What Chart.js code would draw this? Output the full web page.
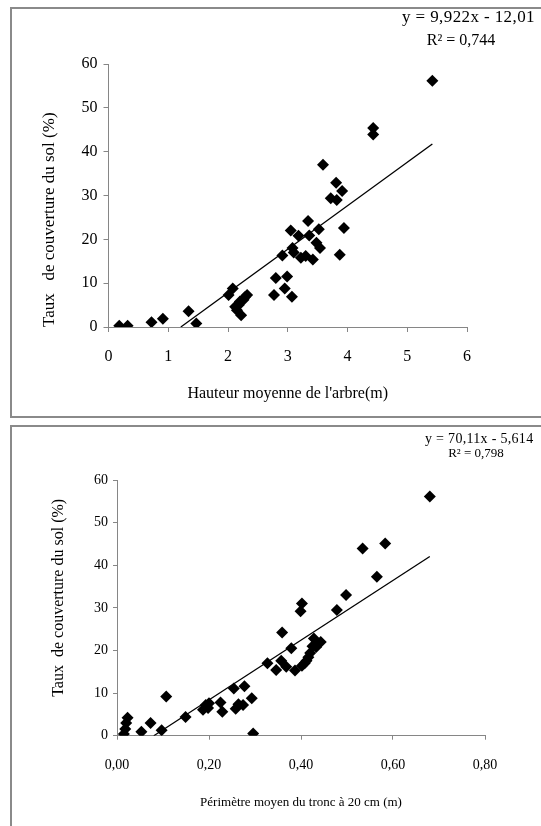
<!DOCTYPE html>
<html>
<head>
<meta charset="utf-8">
<script src="https://cdn.jsdelivr.net/npm/chart.js@4.4.1/dist/chart.umd.min.js"></script>
<style>
  body { margin: 0; background: #fff; overflow: hidden; width: 541px; height: 826px; position: relative; }
  .box { position: absolute; border: 2px solid #8a8a8a; box-sizing: border-box; }
  canvas { position: absolute; }
</style>
</head>
<body>
<div class="box" style="left:10px;top:7px;width:600px;height:411px"></div>
<div class="box" style="left:10px;top:425px;width:600px;height:500px"></div>
<canvas id="chart1" width="570" height="418" style="left:0;top:0"></canvas>
<canvas id="chart2" width="570" height="420" style="left:0;top:420px"></canvas>
<script>
// chart 1 : hauteur moyenne de l'arbre
const hauteur = [0.18, 0.32, 0.72, 0.91, 1.34, 1.47,
  2.01, 2.08, 2.12, 2.15, 2.22, 2.20, 2.26, 2.32, 2.18, 2.28,
  2.77, 2.80, 2.91, 2.95, 2.99, 3.07, 3.05, 3.08, 3.10, 3.18,
  3.22, 3.30, 3.34, 3.36, 3.42, 3.48, 3.52, 3.54, 3.87, 3.94,
  3.59, 3.81, 3.72, 3.91, 3.82, 4.43, 4.43, 5.42];
const couverture1 = [0.3, 0.3, 1.1, 1.9, 3.6, 0.8,
  7.3, 8.8, 4.6, 3.8, 2.7, 5.8, 6.2, 7.3, 5.0, 6.8,
  7.3, 11.2, 16.3, 8.8, 11.5, 6.9, 22.0, 18.0, 17.0, 20.8,
  15.8, 16.2, 24.2, 20.9, 15.4, 19.2, 22.3, 18.0, 16.5, 22.6,
  37.0, 32.9, 29.4, 31.0, 29.0, 45.4, 43.9, 56.2];
const trendX1 = [1.21, 5.42];
const trendY1 = [0, 41.77];
const xTicks1 = ['0', '1', '2', '3', '4', '5', '6'];
const eq1 = ['y = 9,922x - 12,01', 'R² = 0,744'];

// chart 2 : perimetre du tronc
const perimetre = [0.015, 0.018, 0.020, 0.023,
  0.053, 0.073, 0.097, 0.107, 0.149,
  0.187, 0.193, 0.198, 0.200, 0.225, 0.229,
  0.254, 0.258, 0.264, 0.274, 0.277, 0.293, 0.296,
  0.327, 0.346, 0.357, 0.359, 0.368, 0.379, 0.387,
  0.399, 0.402, 0.402, 0.408, 0.412, 0.416, 0.420, 0.425, 0.428, 0.433, 0.443,
  0.478, 0.498, 0.534, 0.565, 0.583, 0.680];
const couverture2 = [0.4, 1.6, 3.0, 4.2,
  0.9, 3.0, 1.3, 9.2, 4.4,
  6.1, 7.2, 6.5, 7.6, 7.8, 5.6,
  11.1, 6.3, 7.4, 7.2, 11.6, 8.8, 0.5,
  17.0, 15.4, 17.6, 24.2, 16.2, 20.5, 15.3,
  29.2, 31.0, 16.4, 17.0, 17.6, 18.4, 19.4, 21.0, 22.8, 20.8, 22.0,
  29.5, 33.0, 43.9, 37.3, 45.1, 56.1];
const trendX2 = [0.08, 0.68];
const trendY2 = [0, 42.06];
const xTicks2 = ['0,00', '0,20', '0,40', '0,60', '0,80'];
const eq2 = ['y = 70,11x - 5,614', 'R² = 0,798'];

const serif = "'Liberation Serif', 'Times New Roman', serif";

const eqText = {
  id: 'eqText',
  afterDraw(chart, args, opts) {
    const ctx = chart.ctx;
    ctx.save();
    ctx.fillStyle = '#000';
    ctx.textBaseline = 'middle';
    opts.lines.forEach(l => {
      ctx.font = l.size + 'px ' + serif;
      ctx.letterSpacing = (l.spacing || 0) + 'px';
      ctx.textAlign = l.align;
      ctx.fillText(l.text, l.x, l.y);
    });
    ctx.restore();
  }
};

function toPoints(xs, ys) {
  return xs.map((x, i) => ({ x: x, y: ys[i] }));
}

function makeChart(id, xs, ys, tx, ty, o) {
  const axisColor = '#868686';
  new Chart(document.getElementById(id), {
    type: 'scatter',
    data: {
      datasets: [
        {
          data: toPoints(tx, ty),
          showLine: true,
          borderColor: '#000',
          borderWidth: 1.3,
          pointRadius: 0
        },
        {
          data: toPoints(xs, ys),
          pointStyle: 'rectRot',
          pointRadius: 6,
          borderWidth: 0,
          backgroundColor: '#000'
        }
      ]
    },
    options: {
      responsive: false,
      animation: false,
      layout: { padding: { left: 0, top: o.top, right: o.right, bottom: 0 } },
      plugins: {
        legend: { display: false },
        tooltip: { enabled: false },
        eqText: { lines: o.eqLines }
      },
      scales: {
        x: {
          type: 'linear',
          min: 0, max: o.xMax,
          ticks: {
            stepSize: o.xStep,
            padding: o.xTickPad,
            color: '#000',
            font: { family: serif, size: o.tickSize },
            callback: (v, i) => o.xTicks[i]
          },
          grid: { drawOnChartArea: false, tickLength: o.tickLen, color: axisColor },
          border: { color: axisColor, width: 1 },
          title: {
            display: true, text: o.xTitle, color: '#000',
            font: { family: serif, size: o.titleSize },
            padding: { top: 0, bottom: o.xTitlePad }
          },
          afterFit: s => { s.height = o.xHeight; }
        },
        y: {
          min: 0, max: 60,
          ticks: {
            stepSize: 10,
            padding: o.yTickPad,
            color: '#000',
            font: { family: serif, size: o.tickSize }
          },
          grid: { drawOnChartArea: false, tickLength: o.tickLen, color: axisColor },
          border: { color: axisColor, width: 1 },
          title: {
            display: true, text: o.yTitle, color: '#000', align: o.yAlign,
            font: { family: serif, size: o.yTitleSize },
            padding: { top: o.yTitlePad, bottom: 0 }
          },
          afterFit: s => { s.width = o.yWidth; }
        }
      }
    },
    plugins: [eqText]
  });
}

makeChart('chart1', hauteur, couverture1, trendX1, trendY1, {
  top: 64, right: 103, yWidth: 108.5, xHeight: 91,
  xMax: 6, xStep: 1, xTicks: xTicks1,
  tickSize: 16, titleSize: 16, yTitleSize: 17, tickLen: 5,
  xTickPad: 15, yTickPad: 6, xTitlePad: 15, yTitlePad: 39, yAlign: 'start',
  xTitle: "Hauteur moyenne de l'arbre(m)",
  yTitle: 'Taux   de couverture du sol (%)',
  eqLines: [
    { text: eq1[0], x: 402, y: 18, align: 'left', size: 17, spacing: 0.4 },
    { text: eq1[1], x: 461, y: 41, align: 'center', size: 16 }
  ]
});

makeChart('chart2', perimetre, couverture2, trendX2, trendY2, {
  top: 60, right: 85, yWidth: 117, xHeight: 104.3,
  xMax: 0.8, xStep: 0.2, xTicks: xTicks2,
  tickSize: 14, titleSize: 13, yTitleSize: 16, tickLen: 4,
  xTickPad: 17, yTickPad: 5, xTitlePad: 30, yTitlePad: 49, yAlign: 'center',
  xTitle: 'Périmètre moyen du tronc à 20 cm (m)',
  yTitle: '     Taux  de couverture du sol (%)',
  eqLines: [
    { text: eq2[0], x: 425, y: 19, align: 'left', size: 14, spacing: 0.3 },
    { text: eq2[1], x: 476, y: 34, align: 'center', size: 13 }
  ]
});
</script>
</body>
</html>
